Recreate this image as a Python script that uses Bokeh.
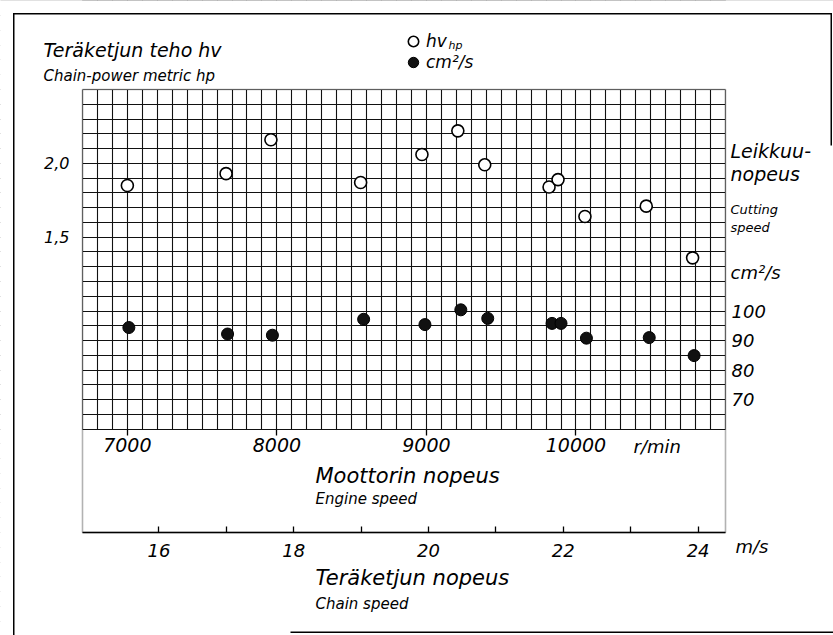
from bokeh.plotting import figure
from bokeh.models import (Range1d, LinearAxis, FixedTicker, SingleIntervalTicker, Grid,
                          BoxAnnotation, Label, Legend, LegendItem)
from bokeh.embed import file_html
from bokeh.resources import INLINE

# ---------------- data ----------------
hp_rpm = [7000, 7660, 7960, 8560, 8970, 9210, 9390, 9820, 9880, 10060, 10470, 10780]
hp_values = [1.85, 1.93, 2.16, 1.87, 2.06, 2.22, 1.99, 1.84, 1.89, 1.64, 1.71, 1.36]
cut_rpm = [7010, 7670, 7970, 8580, 8990, 9230, 9410, 9840, 9900, 10070, 10490, 10790]
cut_values = [94.4, 92.2, 91.8, 97.2, 95.4, 100.4, 97.5, 95.8, 95.8, 90.8, 91.0, 84.9]

engine_ticks = [7000, 8000, 9000, 10000]
engine_tick_labels = {7000: "7000", 8000: "8000", 9000: "9000", 10000: "10000"}
chain_ticks = [16, 18, 20, 22, 24]
chain_minor = [17, 19, 21, 23]
hp_ticks = [1.5, 2.0]
hp_tick_labels = {1.5: "1,5", 2.0: "2,0"}
cut_ticks = [70, 80, 90, 100]

# ---------------- axis relations ----------------
GRID_RPM = (6700, 11000)       # extent of the graph paper, r/min
GRID_HP = (0.2, 2.5)           # extent of the graph paper, hv
BOX_HP_BOTTOM = -0.5           # bottom of the engine-speed box (chain speed axis)
RPM_PER_MS = 450.7             # chain speed m/s -> engine r/min
CUT_AT_1HP, CUT_PER_HP = 100.0, 50.0   # right scale: cm2/s = 100 + (hv - 1) * 50

# ---------------- page layout (pixels) ----------------
W, H = 833, 635
PX_L, PX_R = 82, 725           # paper left / right
PX_T, PX_B = 89, 532           # paper top / box bottom
FONT = "DejaVu Sans"

rpm_per_px = (GRID_RPM[1] - GRID_RPM[0]) / (PX_R - PX_L)
hp_per_px = (GRID_HP[1] - BOX_HP_BOTTOM) / (PX_B - PX_T)
x0 = GRID_RPM[0] - PX_L * rpm_per_px
x1 = GRID_RPM[1] + (W - PX_R) * rpm_per_px
y1 = GRID_HP[1] + PX_T * hp_per_px
y0 = BOX_HP_BOTTOM - (H - PX_B) * hp_per_px


def fx(px):
    return x0 + px * rpm_per_px


def fy(py):
    return y1 - py * hp_per_px


p = figure(width=W, height=H, x_range=Range1d(x0, x1), y_range=Range1d(y0, y1), title=None,
           output_backend="svg", toolbar_location=None, x_axis_location=None, y_axis_location=None,
           min_border=0)
p.outline_line_color = None
p.background_fill_color = "white"
p.border_fill_color = "white"
p.extra_x_ranges = {"chain": Range1d(x0 / RPM_PER_MS, x1 / RPM_PER_MS)}
p.extra_y_ranges = {"cm": Range1d(CUT_AT_1HP + (y0 - 1) * CUT_PER_HP,
                                  CUT_AT_1HP + (y1 - 1) * CUT_PER_HP)}

# ---------------- graph-paper grid ----------------
GRID_COLOR = "#111111"
p.add_layout(Grid(dimension=0, ticker=SingleIntervalTicker(interval=100, num_minor_ticks=0),
                  grid_line_color=GRID_COLOR, grid_line_width=1.1))
p.add_layout(Grid(dimension=1, ticker=SingleIntervalTicker(interval=0.1, num_minor_ticks=0),
                  grid_line_color=GRID_COLOR, grid_line_width=1.1))
eps = 0.8 * hp_per_px
for l, r, b, t in [(x0 - 50, GRID_RPM[0], y0 - 1, y1 + 1),
                   (GRID_RPM[1], x1 + 50, y0 - 1, y1 + 1),
                   (x0 - 50, x1 + 50, GRID_HP[1], y1 + 1),
                   (x0 - 50, x1 + 50, y0 - 1, GRID_HP[0] - eps)]:
    p.add_layout(BoxAnnotation(left=l, right=r, bottom=b, top=t, fill_color="white",
                               fill_alpha=1, line_alpha=0, level="underlay"))
p.add_layout(BoxAnnotation(left=GRID_RPM[0], right=GRID_RPM[1], bottom=BOX_HP_BOTTOM,
                           top=GRID_HP[1], fill_alpha=0, line_color="black", line_width=1.6))

# ---------------- data markers ----------------
r_hp = p.scatter(hp_rpm, hp_values, size=12, marker="circle", fill_color="white",
                 line_color="black", line_width=1.6)
r_cut = p.scatter(cut_rpm, cut_values, y_range_name="cm", size=12, marker="circle",
                  fill_color="#111111", line_color="black", line_width=1)


# ---------------- axes (fixed at the paper edges) ----------------
def style_labels(ax, size):
    ax.major_label_text_font = FONT
    ax.major_label_text_font_style = "italic"
    ax.major_label_text_font_size = size
    ax.major_label_text_color = "black"


hp_axis = LinearAxis(ticker=FixedTicker(ticks=hp_ticks), major_label_overrides=hp_tick_labels,
                     fixed_location=GRID_RPM[0], axis_line_color=None,
                     major_tick_line_color=None, minor_tick_line_color=None,
                     major_label_standoff=7)
style_labels(hp_axis, "16px")
p.add_layout(hp_axis, "left")

cut_axis = LinearAxis(y_range_name="cm", ticker=FixedTicker(ticks=cut_ticks),
                      fixed_location=GRID_RPM[1], axis_line_color=None,
                      major_tick_line_color=None, minor_tick_line_color=None,
                      major_label_standoff=0)
style_labels(cut_axis, "18px")
p.add_layout(cut_axis, "right")

chain_axis = LinearAxis(x_range_name="chain",
                        ticker=FixedTicker(ticks=chain_ticks, minor_ticks=chain_minor),
                        bounds=(GRID_RPM[0] / RPM_PER_MS, GRID_RPM[1] / RPM_PER_MS),
                        fixed_location=BOX_HP_BOTTOM, axis_line_width=1.6,
                        major_tick_in=6, major_tick_out=0, minor_tick_in=6, minor_tick_out=0,
                        major_tick_line_width=1.3, minor_tick_line_width=1.3,
                        major_label_standoff=11)
style_labels(chain_axis, "18px")
p.add_layout(chain_axis, "below")

engine_axis = LinearAxis(ticker=FixedTicker(ticks=engine_ticks),
                         major_label_overrides=engine_tick_labels,
                         bounds=GRID_RPM,
                         fixed_location=GRID_HP[0], axis_line_color=None,
                         major_tick_in=0, major_tick_out=6, major_tick_line_width=1.3,
                         minor_tick_line_color=None, major_label_standoff=3)
style_labels(engine_axis, "19px")
p.add_layout(engine_axis, "below")


# ---------------- legend (one entry per block, stacked like the original) ----------------
def add_legend(label, renderer, center_py):
    p.add_layout(Legend(items=[LegendItem(label=label, renderers=[renderer])],
                        location=(400, H - (center_py + 13)),
                        padding=0, margin=0, spacing=0, glyph_width=26, glyph_height=26,
                        label_standoff=0, label_height=14, border_line_color=None,
                        background_fill_alpha=0, label_text_font=FONT,
                        label_text_font_style="italic", label_text_font_size="17px",
                        label_text_color="black"))


add_legend("hv", r_hp, 41)
add_legend("cm²/s", r_cut, 62)


# ---------------- texts ----------------
def add_text(txt, px, py, size, align="left"):
    p.add_layout(Label(x=fx(px), y=fy(py), text=txt, text_font=FONT, text_font_style="italic",
                       text_font_size=size, text_align=align, text_baseline="middle",
                       text_color="black"))


add_text("hp", 448, 45, "11px")
add_text("Teräketjun teho hv", 43, 49, "19px")
add_text("Chain-power metric hp", 43, 75, "15px")
add_text("Leikkuu-", 730, 150, "19px")
add_text("nopeus", 730, 173, "19px")
add_text("Cutting", 730, 209, "13px")
add_text("speed", 730, 227, "13px")
add_text("cm²/s", 730, 272, "18px")
add_text("r/min", 633, 446, "18px")
add_text("Moottorin nopeus", 315, 475, "21px")
add_text("Engine speed", 315, 498, "15px")
add_text("m/s", 735, 546, "18px")
add_text("Teräketjun nopeus", 315, 577, "21px")
add_text("Chain speed", 315, 603, "15px")


# ---------------- outer frame of the sheet ----------------
def rule(px0, px1, py0, py1):
    p.add_layout(BoxAnnotation(left=fx(px0), right=fx(px1), top=fy(py0), bottom=fy(py1),
                               fill_color="black", fill_alpha=1, line_alpha=0))


rule(12.5, 14, 13, 640)
rule(12.5, 831.5, 12.5, 14)
rule(830, 831.5, 12.5, 145)
rule(290, 840, 631, 632.5)

open("out.html", "w").write(file_html(p, INLINE))
